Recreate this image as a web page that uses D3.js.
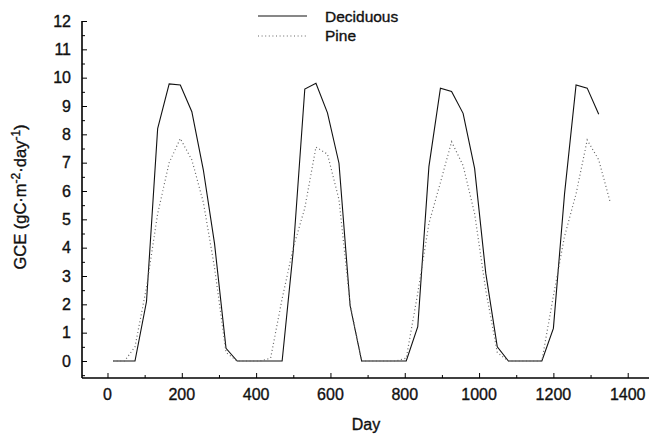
<!DOCTYPE html>
<html><head><meta charset="utf-8">
<script src="https://cdn.jsdelivr.net/npm/d3@7"></script>
<style>
body{margin:0;background:#fff;}
svg{display:block;font-family:"Liberation Sans",Arial,Helvetica,sans-serif;}
text{fill:#111;stroke:#111;stroke-width:0.35px;}
</style></head>
<body><svg id="c" width="649" height="435"></svg>
<script>
const deciduousDays = [15,46,74,105,135,166,196,227,258,288,319,349,
  380,411,439,470,500,531,561,592,623,653,684,714,
  745,776,804,835,865,896,926,957,988,1018,1049,1079,
  1110,1141,1169,1200,1230,1261,1291,1322];
const deciduousValues = [0,0,0,2.1,8.2,9.78,9.74,8.8,6.74,4.15,0.45,0,
  0,0,0,0,3.9,9.6,9.8,8.76,6.98,1.95,0,0,
  0,0,0,1.21,6.86,9.63,9.51,8.74,6.8,3.1,0.5,0,
  0,0,0,1.15,5.9,9.74,9.63,8.71];
const pineDays = [15,46,74,105,135,166,196,227,258,288,319,349,
  380,411,439,470,500,531,561,592,623,653,684,714,
  745,776,804,835,865,896,926,957,988,1018,1049,1079,
  1110,1141,1169,1200,1230,1261,1291,1322,1353];
const pineValues = [0,0,0.5,2.6,5.2,7.0,7.85,7.1,5.6,3.3,0.3,0,
  0,0,0.1,2.2,4.0,5.4,7.55,7.3,5.7,2.0,0,0,
  0,0,0.1,2.4,4.85,6.3,7.74,6.9,5.2,2.5,0.3,0,
  0,0,0,2.3,4.4,5.9,7.8,7.1,5.6];
const xTicks = [0,200,400,600,800,1000,1200,1400];
const yTicks = [0,1,2,3,4,5,6,7,8,9,10,11,12];
const seriesNames = ["Deciduous","Pine"];

const svg = d3.select("#c");
const x = d3.scaleLinear().domain([-68.6,1460]).range([82,650]);
const y = d3.scaleLinear().domain([-0.6,12]).range([378,21]);

// axes
const xMinor = d3.range(-0,1500,100).filter(v=>xTicks.indexOf(v)<0);
const yMinor = d3.range(-0.5,12,1);
const gx = svg.append("g").attr("transform","translate(0,378)");
gx.call(d3.axisTop(x).tickValues(xTicks).tickSize(5).tickFormat(""));
gx.call(g=>g.select(".domain").remove());
gx.append("g").call(d3.axisTop(x).tickValues(xMinor).tickSize(3).tickFormat(""))
  .call(g=>g.select(".domain").remove());
gx.append("line").attr("x1",82).attr("x2",649).attr("stroke","#000").attr("stroke-width",1.6);
gx.selectAll("line").attr("stroke","#000");
gx.selectAll(".xl").data(xTicks).join("text").attr("class","xl")
  .attr("x",d=>x(d)).attr("y",22).attr("text-anchor","middle")
  .attr("font-size",16).text(d=>d);

const gy = svg.append("g").attr("transform","translate(82,0)");
gy.call(d3.axisRight(y).tickValues(yTicks).tickSize(5).tickFormat(""));
gy.call(g=>g.select(".domain").remove());
gy.append("g").call(d3.axisRight(y).tickValues(yMinor).tickSize(3).tickFormat(""))
  .call(g=>g.select(".domain").remove());
gy.append("line").attr("y1",y(12)).attr("y2",378).attr("stroke","#000").attr("stroke-width",1.6);
gy.selectAll("line").attr("stroke","#000");
gy.selectAll(".yl").data(yTicks).join("text").attr("class","yl")
  .attr("x",-11).attr("y",d=>y(d)+5.5).attr("text-anchor","end")
  .attr("font-size",16).text(d=>d);

// labels
svg.append("text").attr("x",366).attr("y",430).attr("text-anchor","middle")
  .attr("font-size",16).text("Day");
const yl = svg.append("text").attr("transform","translate(26,197) rotate(-90)")
  .attr("text-anchor","middle").attr("font-size",16.5);
yl.append("tspan").text("GCE (gC·m");
yl.append("tspan").attr("dy",-6).attr("font-size",12).text("-2");
yl.append("tspan").attr("dy",6).text("·day");
yl.append("tspan").attr("dy",-6).attr("font-size",12).text("-1");
yl.append("tspan").attr("dy",6).text(")");

// lines
const line = d3.line().x(d=>x(d[0])).y(d=>y(d[1]));
svg.append("path").datum(deciduousDays.map((d,i)=>[d,deciduousValues[i]]))
  .attr("d",line).attr("fill","none").attr("stroke","#111").attr("stroke-width",1.1);
svg.append("path").datum(pineDays.map((d,i)=>[d,pineValues[i]]))
  .attr("d",line).attr("fill","none").attr("stroke","#666").attr("stroke-width",1.2)
  .attr("stroke-dasharray","1,2.6");

// legend
const lg = svg.append("g");
lg.append("line").attr("x1",258).attr("x2",307).attr("y1",16).attr("y2",16)
  .attr("stroke","#111").attr("stroke-width",1.1);
lg.append("line").attr("x1",258).attr("x2",307).attr("y1",36).attr("y2",36)
  .attr("stroke","#666").attr("stroke-width",1.2).attr("stroke-dasharray","1,2.6");
lg.selectAll(".lt").data(seriesNames).join("text").attr("class","lt")
  .attr("x",325).attr("y",(d,i)=>22+i*19).attr("font-size",15.5).text(d=>d);
</script></body></html>
